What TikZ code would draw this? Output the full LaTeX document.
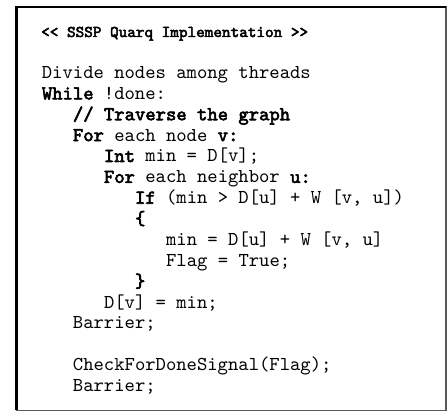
\documentclass[tikz,border=0pt]{standalone}
\usepackage{fontspec}
\newfontfamily\codefont{lmmono10-regular.otf}[BoldFont=lmmono10-regular.otf,BoldFeatures={FakeBold=3}]
\usetikzlibrary{positioning}
\tikzset{
  codeline/.style={anchor=base west,inner sep=0pt,font=\codefont\fontsize{19.7}{23}\selectfont},
  titleline/.style={codeline,font=\codefont\bfseries\fontsize{16.4}{19}\selectfont},
  frameedge/.style={line width=1.4pt,draw=black!65},
  framedark/.style={line width=2.6pt,draw=black,line join=miter},
}
\newcommand{\kw}[1]{\textbf{#1}}
\begin{document}
\begin{tikzpicture}[x=1pt,y=1pt]
\useasboundingbox (0,0) rectangle (447,-411);
% frame
\draw[frameedge] (16.2,-7) rectangle (445.8,-410.2);
\draw[framedark] (16.2,-410.2) -- (16.2,-7) -- (445.8,-7);
\node[titleline] (title) at (41,-37) {<{}< SSSP Quarq Implementation >{}>};
% code lines: x in characters, y in lines
\begin{scope}[shift={(41.7,-78.5)},x=10.35pt,y=-20.87pt]
\node[codeline] (divide) at (0,0) {Divide nodes among threads};
\node[codeline] (while) at (0,1) {\kw{While} !done:};
\node[codeline] (comment) at (3,2) {\kw{// Traverse the graph}};
\node[codeline] (fornode) at (3,3) {\kw{For} each node \kw{v:}};
\node[codeline] (intmin) at (6,4) {\kw{Int} min = D[v];};
\node[codeline] (forngb) at (6,5) {\kw{For} each neighbor \kw{u:}};
\node[codeline] (iftest) at (9,6) {\kw{If} (min > D[u] + W [v, u])};
\node[codeline] (open) at (9,7) {\kw{\{}};
\node[codeline] (setmin) at (12,8) {min = D[u] + W [v, u]};
\node[codeline] (setflag) at (12,9) {Flag = True;};
\node[codeline] (close) at (9,10) {\kw{\}}};
\node[codeline] (store) at (6,11) {D[v] = min;};
\node[codeline] (barrier) at (3,12) {Barrier;};
\node[codeline] (check) at (3,14) {CheckForDoneSignal(Flag);};
\node[codeline] (barrier2) at (3,15) {Barrier;};
\end{scope}
\end{tikzpicture}
\end{document}
